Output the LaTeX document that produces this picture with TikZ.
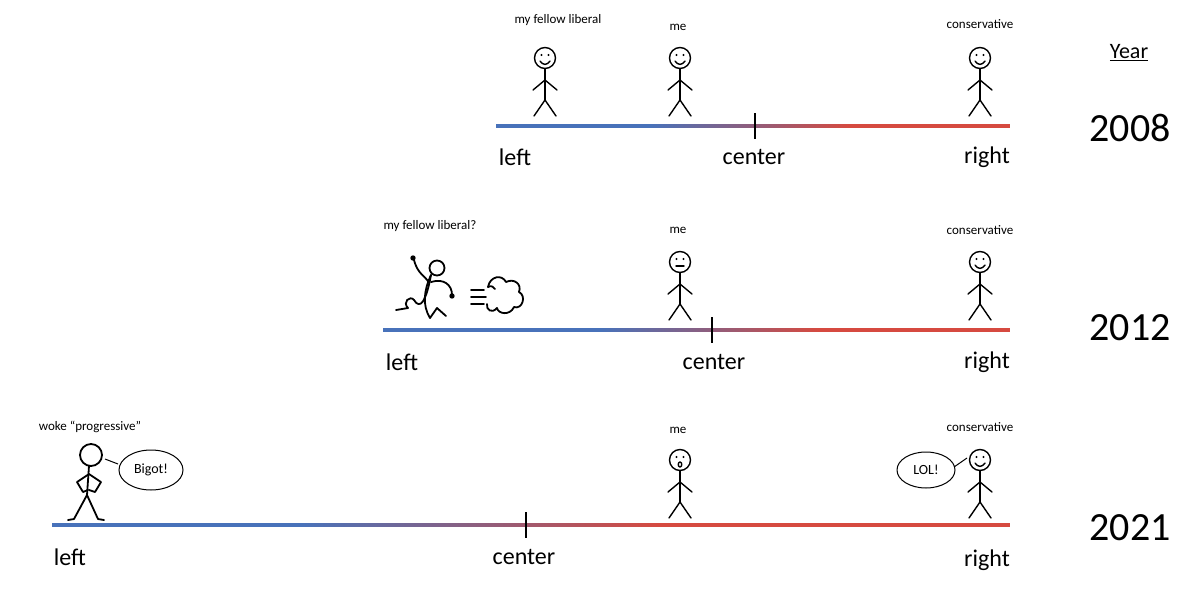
\documentclass[tikz,border=0pt]{standalone}
\usepackage{fontspec}
\setmainfont{Carlito}
\usetikzlibrary{shapes.geometric}
\definecolor{lb}{RGB}{72,114,186}
\definecolor{rr}{RGB}{214,74,64}
\tikzset{
  fig/.style={line width=1.4pt,line cap=round,line join=round},
  small/.style={font=\fontsize{13}{15}\selectfont},
  axlab/.style={font=\fontsize{24}{28}\selectfont},
  yr/.style={font=\fontsize{40}{44}\selectfont},
  bubble/.style={draw,ellipse,line width=1pt,inner sep=2pt,font=\fontsize{14}{16}\selectfont},
}
\newcommand\stickman[4]{% name, x, headY, face
 \begin{scope}[shift={(#2,#3)},fig]
  \draw (0,0) circle (10.5);
  \coordinate (#1) at (0,0);
  \fill (-3.5,-3) circle (1.2) (3.5,-3) circle (1.2);
  \ifcase#4
   \draw (-5,3) .. controls (-2,7.5) and (2,7.5) .. (5,3);
  \or
   \draw (-4,4) -- (4,4);
  \or
   \draw (0,4.5) ellipse (1.8 and 2.5);
  \fi
  \draw (0,10.5) -- (0,42);
  \draw (-12,32) -- (0,22) -- (12,32);
  \draw (-11,58) -- (0,42) -- (11,58);
 \end{scope}}
\newcommand\axisline[5]{% y, x0, blendstart, blendend, x1
  \fill[lb] (#2,#1-1.8) rectangle (#3,#1+1.8);
  \shade[left color=lb,right color=rr] (#3,#1-1.8) rectangle (#4,#1+1.8);
  \fill[rr] (#4,#1-1.8) rectangle (#5,#1+1.8);}
\begin{document}
\begin{tikzpicture}[x=1pt,y=-1pt]
\useasboundingbox (0,0) rectangle (1200,600);
% 2008
\axisline{126}{496}{650}{850}{1010}
\draw[line width=2pt] (755,113) coordinate (t1) -- (755,139);
\node[axlab] (l1) at (515,157) {left};
\node[axlab] (c1) at (754,157) {center};
\node[axlab] (r1) at (987,157) {right};
\stickman{f1}{545}{58}{0}
\stickman{m1}{680}{58}{0}
\stickman{k1}{980}{58}{0}
\node[small] (lf1) at (558,20) {my fellow liberal};
\node[small] (lm1) at (678,27) {me};
\node[small] (lk1) at (980,24) {conservative};
% 2012
\axisline{330}{383}{600}{820}{1010}
\draw[line width=2pt] (712,317) coordinate (t2) -- (712,343);
\node[axlab] (l2) at (402,362) {left};
\node[axlab] (c2) at (714,362) {center};
\node[axlab] (r2) at (987,362) {right};
\stickman{m2}{680}{262}{1}
\stickman{k2}{980}{262}{0}
\node[small] (lf2) at (430,226) {my fellow liberal?};
\node[small] (lm2) at (678,230) {me};
\node[small] (lk2) at (980,230) {conservative};
% running figure
\begin{scope}[fig,line width=1.8pt]
 \draw (437,268) circle (7.5);
 \coordinate (run) at (437,268);
 \draw (431,275) .. controls (424,290) and (422,305) .. (430,318) -- (437,308) -- (446,316);
 \draw (431,275) .. controls (426,302) and (420,310) .. (414,300) .. controls (410,295) and (402,302) .. (408,308) -- (396,310);
 \draw (429,283) .. controls (425,275) and (418,275) .. (414,260);
 \fill (413,258) circle (2.7);
 \draw (431,282) .. controls (444,278) and (452,285) .. (452,295);
 \fill (452,296) circle (2.7);
 \draw (471,290) -- (484,290) (471,297) -- (486,297) (471,304) -- (484,304);
 \draw (488,287) .. controls (490,276) and (502,274) .. (506,282)
       .. controls (514,278) and (522,284) .. (519,292)
       .. controls (527,296) and (522,310) .. (514,307)
       .. controls (510,316) and (498,314) .. (497,308)
       .. controls (492,314) and (486,310) .. (487,304);
 \draw (488,287) .. controls (491,285) and (494,287) .. (495,289);
\end{scope}
% 2021
\axisline{525}{52}{300}{660}{1010}
\draw[line width=2pt] (526,512) coordinate (t3) -- (526,538);
\node[axlab] (l3) at (70,557) {left};
\node[axlab] (c3) at (524,557) {center};
\node[axlab] (r3) at (987,560) {right};
\stickman{m3}{680}{460}{2}
\stickman{k3}{980}{460}{0}
\node[small] (lw3) at (90,427) {woke “progressive”};
\node[small] (lm3) at (678,430) {me};
\node[small] (lk3) at (980,427) {conservative};
% woke figure
\begin{scope}[fig,line width=1.8pt]
 \draw (91,455) circle (11);
 \coordinate (wk) at (91,455);
 \draw (89,466) -- (87,495);
 \draw (89,474) -- (77,482) -- (83,492) -- (88,490);
 \draw (89,474) -- (101,482) -- (95,492) -- (89,490);
 \draw (87,495) -- (74,519) -- (68,520);
 \draw (87,495) -- (98,519) -- (104,520);
\end{scope}
\node[bubble,minimum width=64pt,minimum height=40pt] (bg) at (151,470) {Bigot!};
\draw[line width=1pt] (105,459) -- (118,464);
\node[bubble,minimum width=58pt,minimum height=36pt] (lol) at (926,470) {LOL!};
\draw[line width=1pt] (954,467) -- (967,458);
% year
\node[font=\fontsize{22}{26}\selectfont] (yh) at (1129,53) {\underline{Year}};
\node[yr] (y1) at (1130,128) {2008};
\node[yr] (y2) at (1130,328) {2012};
\node[yr] (y3) at (1130,528) {2021};
\end{tikzpicture}
\end{document}
